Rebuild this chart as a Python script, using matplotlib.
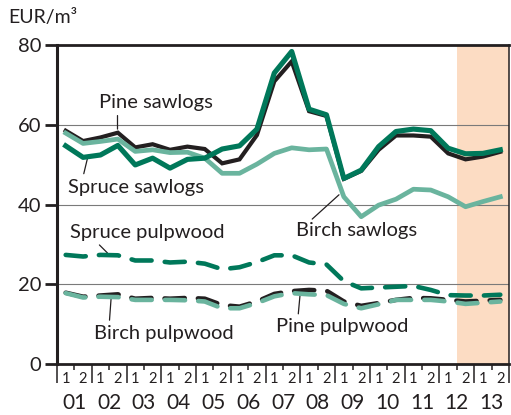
import numpy as np
import matplotlib
matplotlib.use("Agg")
import matplotlib.pyplot as plt

plt.rcParams['font.family'] = ['Lato', 'DejaVu Sans']
plt.rcParams['lines.scale_dashes'] = False

# half-year roundwood stumpage prices, EUR/m3, 2001 H1 .. 2013 H2
years = ['01', '02', '03', '04', '05', '06', '07', '08', '09', '10', '11', '12', '13']
halves = ['1', '2']

pine_saw = [58.6, 56.0, 56.9, 58.1, 54.4, 55.2, 53.8, 54.6, 54.0, 50.4, 51.4, 57.5, 71.0,
            76.0, 63.5, 62.3, 46.5, 48.5, 53.8, 57.4, 57.4, 57.1, 52.9, 51.4, 52.1, 53.3]
spruce_saw = [54.8, 51.9, 52.5, 54.9, 50.0, 51.7, 49.2, 51.4, 51.7, 54.0, 54.8, 59.0, 73.1,
              78.5, 64.0, 62.6, 46.6, 48.7, 54.6, 58.4, 59.0, 58.6, 54.2, 52.8, 52.9, 53.8]
birch_saw = [58.0, 55.4, 55.9, 56.5, 53.4, 53.8, 53.1, 53.2, 51.7, 47.9, 47.9, 50.2, 52.9,
             54.3, 53.8, 54.0, 42.0, 37.0, 39.9, 41.4, 43.9, 43.7, 42.0, 39.5, 40.8, 42.0]
spruce_pulp = [27.4, 27.0, 27.4, 27.3, 26.0, 26.0, 25.5, 25.7, 25.2, 23.8, 24.3, 25.6, 27.3,
               27.3, 25.5, 25.0, 20.8, 19.0, 19.2, 19.4, 19.6, 18.6, 17.3, 17.2, 17.2, 17.4]
pine_pulp = [17.9, 16.9, 17.2, 17.5, 16.4, 16.6, 16.4, 16.6, 16.4, 14.8, 14.4, 15.7, 17.6,
             18.3, 18.6, 18.4, 15.7, 14.6, 15.3, 16.1, 16.6, 16.5, 16.1, 15.7, 15.9, 16.1]
birch_pulp = [17.8, 16.7, 16.9, 16.8, 16.1, 16.1, 16.1, 16.0, 15.7, 14.0, 14.0, 15.3, 17.0,
              17.8, 17.5, 17.3, 15.1, 14.0, 15.0, 16.1, 16.1, 16.1, 15.7, 15.1, 15.4, 15.7]
forecast_start = 11.5  # 2012 H2 onwards is forecast

DARK = '#231f20'
GREEN = '#00785a'
LIGHT = '#6ab49e'

x = np.arange(len(pine_saw)) * 0.5 + 0.25

fig = plt.figure(figsize=(5.11, 4.15), dpi=100)
ax = fig.add_axes([57 / 511, 1 - 364 / 415, (509 - 57) / 511, (364 - 45.5) / 415])
ax.set_xlim(0, len(years))
ax.set_ylim(0, 80)

ax.axvspan(forecast_start, len(years), color='#fcdcc3', lw=0, zorder=0)
for v in (20, 40, 60):
    ax.axhline(v, color='#7a7a7a', lw=0.8, zorder=0.5)

# sawlogs
ax.plot(x, pine_saw, color=DARK, lw=3.0, solid_joinstyle='miter', zorder=3)
ax.plot(x, birch_saw, color=LIGHT, lw=3.4, zorder=3.2)
ax.plot(x, spruce_saw, color=GREEN, lw=3.7, zorder=3.4)

# pulpwood
dash_kw = dict(dashes=(14.5, 9.5), dash_capstyle='round', lw=3.3)
ax.plot(x, pine_pulp, color=DARK, zorder=3, **dash_kw)
ax.plot(x, birch_pulp, color=LIGHT, zorder=3.2, **dash_kw)
ax.plot(x, spruce_pulp, color=GREEN, zorder=3.4, **dash_kw)

# labels with leader lines
lab = dict(fontsize=14.5, color=DARK, ha='center', va='center', zorder=5)
lead = dict(arrowstyle='-', color=DARK, lw=0.9, shrinkA=0, shrinkB=0)
ax.text(2.84, 65.6, 'Pine sawlogs', **lab)
ax.annotate('', xy=(1.74, 59.0), xytext=(1.74, 62.4), arrowprops=lead)
ax.text(2.28, 44.4, 'Spruce sawlogs', **lab)
ax.annotate('', xy=(0.88, 51.8), xytext=(0.77, 47.8), arrowprops=lead)
ax.text(8.62, 33.6, 'Birch sawlogs', **lab)
ax.annotate('', xy=(8.11, 42.5), xytext=(7.34, 36.4), arrowprops=lead)
ax.text(2.59, 33.0, 'Spruce pulpwood', **lab)
ax.annotate('', xy=(1.45, 27.9), xytext=(1.22, 29.9), arrowprops=lead)
ax.text(3.07, 7.7, 'Birch pulpwood', **lab)
ax.annotate('', xy=(1.56, 17.0), xytext=(1.51, 11.0), arrowprops=lead)
ax.text(8.19, 9.3, 'Pine pulpwood', **lab)
ax.annotate('', xy=(7.0, 18.3), xytext=(6.94, 12.6), arrowprops=lead)

# spines
for side, w in (('left', 2.2), ('bottom', 2.0), ('top', 2.0), ('right', 1.1)):
    ax.spines[side].set_linewidth(w)
    ax.spines[side].set_color(DARK)

# y axis
ax.set_yticks([0, 20, 40, 60, 80])
ax.tick_params(axis='y', length=8.5, width=2, pad=3, labelsize=14.5,
               color=DARK, labelcolor=DARK)

# x axis: long ticks at year boundaries, half-year labels, year labels below
ax.set_xticks(np.arange(len(years) + 1))
ax.set_xticklabels([])
ax.set_xticks(x, labels=halves * len(years), minor=True)
ax.tick_params(axis='x', which='major', length=14, width=1.1, color=DARK)
ax.tick_params(axis='x', which='minor', length=0, pad=6, labelsize=10.5, labelcolor=DARK)

secax = ax.secondary_xaxis('bottom')
secax.spines['bottom'].set_visible(False)
secax.set_xticks(np.arange(len(years)) + 0.5, labels=years)
secax.tick_params(axis='x', length=4, width=1.1, pad=17, labelsize=15,
                  color=DARK, labelcolor=DARK)

fig.text(8 / 511, 1 - 18 / 415, 'EUR/m³', fontsize=14, color=DARK, ha='left', va='center')

fig.savefig('out.png', dpi=100)
